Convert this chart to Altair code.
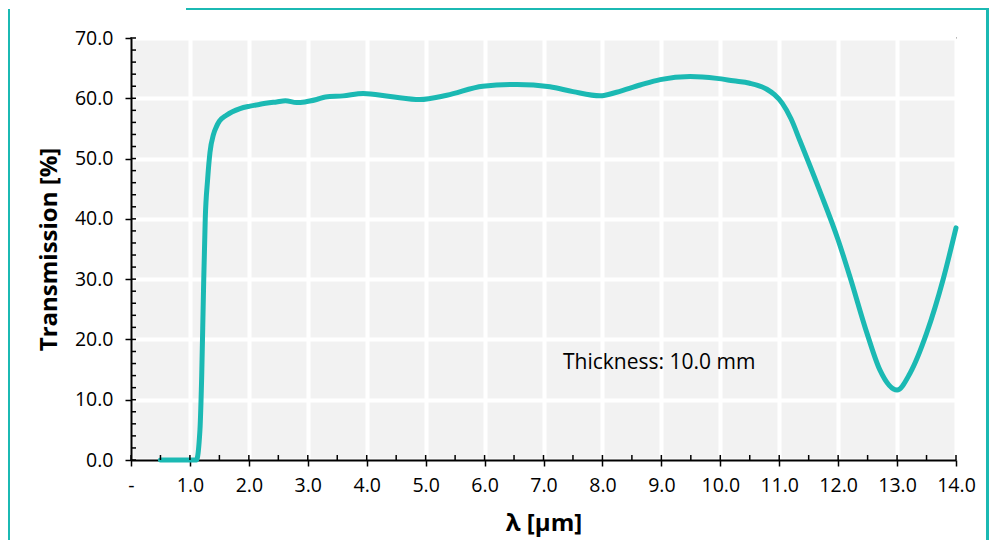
import altair as alt
import pandas as pd

# ---- data ----
wavelength = [0.5, 1.11, 1.17, 1.2, 1.23, 1.26, 1.3, 1.34, 1.4, 1.45, 1.5, 1.62, 1.85, 2.02, 2.19,
              2.47, 2.62, 2.81, 2.95, 3.15, 3.3, 3.6, 3.94, 4.4, 4.9, 5.36, 5.97, 6.55, 7.11, 7.5,
              7.96, 8.24, 8.64, 8.98, 9.49, 9.94, 10.22, 10.5, 10.79, 10.92, 11.05, 11.2, 11.35, 11.69,
              12.0, 12.2, 12.49, 12.71, 13.0, 13.22, 13.5, 13.78, 14.0]
transmission = [0, 0, 5, 14, 28, 40, 46.5, 51.0, 54, 55.3, 56.2, 57.2, 58.3, 58.7, 59.0,
                59.4, 59.6, 59.3, 59.4, 59.8, 60.2, 60.4, 60.8, 60.3, 59.8, 60.5, 62.0, 62.3, 61.9, 61.1,
                60.4, 61.0, 62.2, 63.1, 63.6, 63.3, 62.9, 62.5, 61.5, 60.6, 59.2, 56.6, 53.0, 44.6,
                36.5, 30.4, 21.0, 14.9, 11.6, 14.4, 21.0, 29.9, 38.5]
x_ticks = list(range(0, 15))
y_ticks = list(range(0, 71, 10))
x_minor = [i * 0.5 for i in range(0, 29)]
y_minor = list(range(0, 71, 2))
note_text = ["Thickness: 10.0 mm"]
note_x = [7.33]
note_y = [16.1]

TEAL = "#1bb9b3"
W, H = 825, 422
PAD = {"left": 123, "top": 30, "right": 33, "bottom": 80}

df = pd.DataFrame({"wl": wavelength, "t": transmission})
xs = alt.Scale(domain=[0, 14], nice=False, zero=False)
ys = alt.Scale(domain=[0, 70], nice=False)

line = alt.Chart(df).mark_line(color=TEAL, strokeWidth=5, interpolate="monotone",
                               strokeCap="round", strokeJoin="round").encode(
    x=alt.X("wl:Q", scale=xs, title="λ [µm]",
            axis=alt.Axis(values=x_ticks, labelExpr="datum.value == 0 ? '-' : format(datum.value, '.1f')",
                          labelFlush=False, labelPadding=10, titlePadding=17)),
    y=alt.Y("t:Q", scale=ys, title="Transmission [%]",
            axis=alt.Axis(values=y_ticks, format=".1f", labelFlush=False, labelPadding=12,
                          titlePadding=13)),
)

ytick_in = alt.Chart(pd.DataFrame({"t": y_minor})).mark_rule(color="black", strokeWidth=1.5).encode(
    y=alt.Y("t:Q", scale=ys, title="Transmission [%]"), x=alt.value(0), x2=alt.value(5))
xtick_in = alt.Chart(pd.DataFrame({"wl": x_minor})).mark_rule(color="black", strokeWidth=1.5).encode(
    x=alt.X("wl:Q", scale=xs, title="λ [µm]"), y=alt.value(H - 5), y2=alt.value(H))

note = alt.Chart(pd.DataFrame({"wl": note_x, "t": note_y, "s": note_text})).mark_text(
    align="left", baseline="middle", font="Open Sans", fontSize=21, color="black").encode(
    x=alt.X("wl:Q", scale=xs, title="λ [µm]"), y=alt.Y("t:Q", scale=ys, title="Transmission [%]"),
    text="s:N")

# decorative teal frame
frame_df = pd.DataFrame({"k": [0]})
left_frame = alt.Chart(frame_df).mark_rule(color=TEAL, strokeWidth=3).encode(
    x=alt.value(-PAD["left"] + 0.5), y=alt.value(-PAD["top"] + 1), y2=alt.value(H + PAD["bottom"]))
right_frame = alt.Chart(frame_df).mark_rule(color=TEAL, strokeWidth=3).encode(
    x=alt.value(W + PAD["right"] - 1.5), y=alt.value(-PAD["top"]), y2=alt.value(H + PAD["bottom"]))
top_frame = alt.Chart(frame_df).mark_rule(color=TEAL, strokeWidth=3).encode(
    x=alt.value(55), x2=alt.value(W + PAD["right"]), y=alt.value(-PAD["top"] + 0.5))

chart = alt.layer(line, ytick_in, xtick_in, note, left_frame, right_frame, top_frame).properties(
    width=W, height=H, padding=PAD, autosize=alt.AutoSizeParams(type="none"),
    background="white",
).configure_view(fill="#f2f2f2", stroke="black", strokeWidth=1.5).configure_axis(
    domainColor="black", domainWidth=2, tickColor="black", tickWidth=1.5, tickSize=6,
    labelFont="Open Sans", labelFontSize=19.5, labelColor="black",
    titleFont="Open Sans", titleFontSize=24, titleFontWeight="bold", titleColor="black",
    gridColor="white", gridWidth=4,
)

chart.save("out.html", embed_options={"renderer": "svg", "actions": False})
